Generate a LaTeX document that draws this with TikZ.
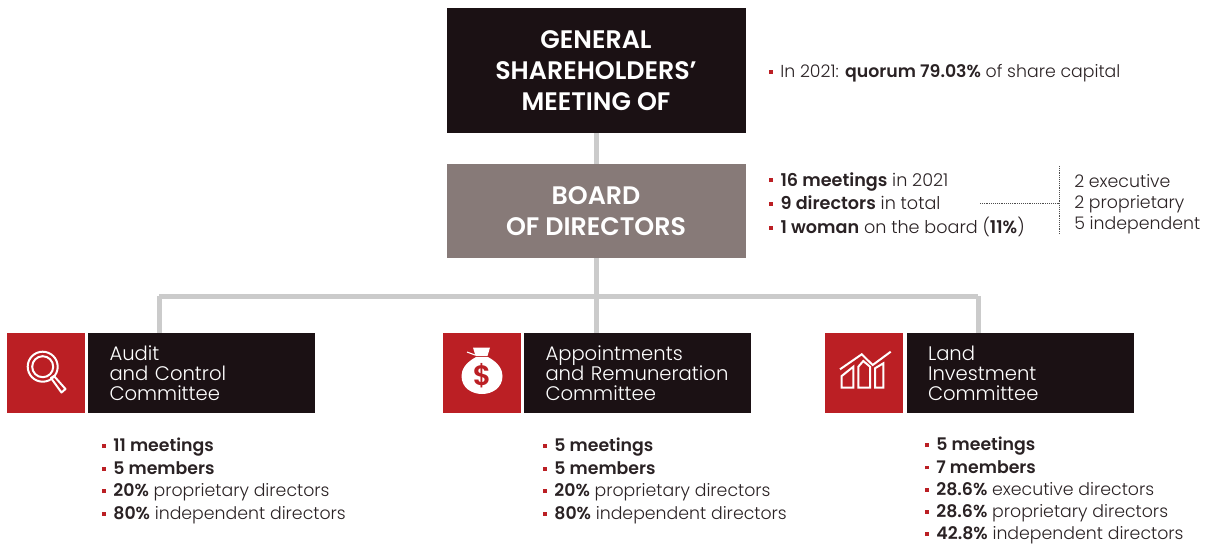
\documentclass[tikz,border=0pt]{standalone}
\usepackage{fontspec}
\setmainfont{Poppins Light}[BoldFont=Poppins SemiBold]
\newfontfamily\lightfont{Poppins Light}
\definecolor{darkbox}{HTML}{1B1114}
\definecolor{boardbox}{HTML}{877A78}
\definecolor{redbox}{HTML}{BB1F24}
\definecolor{trunkgray}{HTML}{CBCBCB}
\definecolor{bodytext}{HTML}{2A2224}
\newcommand{\redmark}{\textcolor{redbox}{\rule[0.22em]{0.22em}{0.22em}}\hspace{0.42em}}
\begin{document}
\begin{tikzpicture}[x=0.75pt, y=-0.75pt,
    head/.style={rectangle, fill=darkbox, text=white, minimum width=224.25pt, font=\fontsize{19}{23}\selectfont\bfseries, align=center, inner sep=0pt},
    icon/.style={rectangle, fill=redbox, minimum width=58.5pt, minimum height=60pt, inner sep=0pt},
    committee/.style={rectangle, fill=darkbox, text=white, minimum width=170.25pt, minimum height=60pt, inner sep=0pt, text width=138pt, align=left, font=\lightfont\fontsize{14.7}{15}\selectfont},
    facts/.style={anchor=north west, align=left, inner sep=0pt, text=bodytext, font=\fontsize{13}{16.9}\selectfont},
    trunk/.style={draw=trunkgray, line width=3.75pt},
    dotline/.style={draw=black!70, line width=0.4pt, densely dotted},
    glyph/.style={draw=white, line width=1.5pt}]
  \useasboundingbox (0,0) rectangle (1212,543);

  \node[head, minimum height=93.75pt] (general) at (596,70.5) {GENERAL\\SHAREHOLDERS'\\MEETING OF};
  \node[head, fill=boardbox, minimum height=70.5pt] (board) at (596,211) {BOARD\\OF DIRECTORS};

  \node[icon] (auditicon) at (46,373) {};
  \node[committee] (audit) at (201.5,373) {Audit\\and Control\\Committee};
  \node[icon] (apptsicon) at (482,373) {};
  \node[committee] (appts) at (637.5,373) {Appointments\\and Remuneration\\Committee};
  \node[icon] (landicon) at (864,373) {};
  \node[committee] (land) at (1020,373) {Land\\Investment\\Committee};

  \coordinate (busleft) at (159,296);
  \coordinate (busmid) at (596,296);
  \coordinate (busright) at (978,296);
  \draw[trunk] (general) -- (board);
  \draw[trunk] (board) -- (busmid);
  \draw[trunk] (busleft) -- (busright);
  \draw[trunk] (busleft) -- (busleft |- audit.north);
  \draw[trunk] (busmid) -- (busmid |- appts.north);
  \draw[trunk] (busright) -- (busright |- land.north);

  \node[facts] (quorum) at (769,64) {\redmark In 2021: \textbf{quorum 79.03\%} of share capital};
  \node[facts, font=\fontsize{13.2}{17.8}\selectfont] (boardfacts) at (769,172) {\redmark\textbf{16 meetings} in 2021\\\redmark\textbf{9 directors} in total\\\redmark\textbf{1 woman} on the board (\textbf{11\%})};
  \node[facts, font=\fontsize{13}{15.75}\selectfont] (split) at (1074,174) {2 executive\\2 proprietary\\5 independent};
  \coordinate (splitfrom) at (980,203);
  \coordinate (splittop) at (1059,166);
  \coordinate (splitbot) at (1059,235);
  \draw[dotline] (splitfrom) -- (splitfrom -| splittop);
  \draw[dotline] (splittop) -- (splitbot);

  \node[facts] (auditfacts) at (102,438) {\redmark\textbf{11 meetings}\\\redmark\textbf{5 members}\\\redmark\textbf{20\%} proprietary directors\\\redmark\textbf{80\%} independent directors};
  \node[facts] (apptsfacts) at (543,438) {\redmark\textbf{5 meetings}\\\redmark\textbf{5 members}\\\redmark\textbf{20\%} proprietary directors\\\redmark\textbf{80\%} independent directors};
  \node[facts, font=\fontsize{13}{16.7}\selectfont] (landfacts) at (925,437) {\redmark\textbf{5 meetings}\\\redmark\textbf{7 members}\\\redmark\textbf{28.6\%} executive directors\\\redmark\textbf{28.6\%} proprietary directors\\\redmark\textbf{42.8\%} independent directors};

  % magnifier
  \draw[glyph] (42.7,366.7) circle (15);
  \draw[glyph] (42.7,366.7) circle (10.5);
  \draw[glyph, line join=round] (51,378) -- (54,376) -- (65.5,389) -- (61.5,392.5) -- cycle;

  % money bag
  \fill[white] (473,347.5) -- (490,347.5) -- (487.5,356) -- (475.5,356) -- cycle;
  \fill[white] (476,357) .. controls (465,363) and (461.5,370) .. (461.5,376) .. controls (461.5,388) and (472,394) .. (482,394) .. controls (492,394) and (502.5,388) .. (502.5,376) .. controls (502.5,370) and (499,363) .. (488,357) -- cycle;
  \draw[white, line width=0.8pt] (467,352) -- (475,355);
  \node[text=redbox, inner sep=0pt, font=\fontsize{21}{21}\selectfont\bfseries] (dollar) at (482,376) {\$};

  % rising buildings
  \draw[glyph, line join=miter] (840,369.3) -- (861.7,354.3) -- (872.7,365) -- (890.7,351.7);
  \draw[glyph] (841.7,387.7) -- (841.7,376) -- (853.3,366.7) -- (853.3,387.7) -- cycle;
  \draw[glyph] (858.3,387.7) -- (858.3,366.7) -- (863.3,361) -- (870,366.7) -- (870,387.7) -- cycle;
  \draw[glyph] (875,387.7) -- (875,368.3) -- (883.3,363.3) -- (883.3,387.7) -- cycle;
\end{tikzpicture}
\end{document}
